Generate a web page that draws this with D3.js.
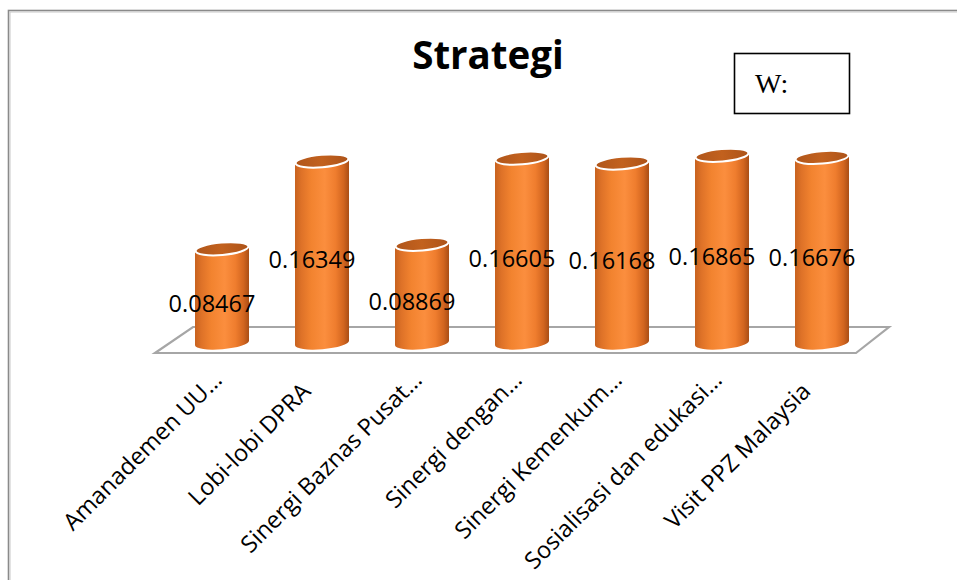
<!DOCTYPE html>
<html>
<head>
<meta charset="utf-8">
<script src="https://cdn.jsdelivr.net/npm/d3@7"></script>
<style>
  html, body { margin: 0; padding: 0; background: #ffffff; }
  svg { display: block; }
</style>
</head>
<body>
<svg id="chart" width="957" height="580"></svg>
<script>
// Strategy weights
const categories = [
  "Amanademen UU…",
  "Lobi-lobi DPRA",
  "Sinergi Baznas Pusat…",
  "Sinergi dengan…",
  "Sinergi Kemenkum…",
  "Sosialisasi dan edukasi…",
  "Visit PPZ Malaysia"
];
const values = [0.08467, 0.16349, 0.08869, 0.16605, 0.16168, 0.16865, 0.16676];
const valueLabels = ["0.08467", "0.16349", "0.08869", "0.16605", "0.16168", "0.16865", "0.16676"];
const title = "Strategi";
const boxLabel = "W:";

const svg = d3.select("#chart");
const W = 957, H = 580;

// frame around the chart area
svg.append("rect").attr("x", 0).attr("y", 0).attr("width", W).attr("height", H).attr("fill", "#ffffff");
svg.append("rect")
  .attr("x", 8.5).attr("y", 10.5).attr("width", W + 20).attr("height", H + 20)
  .attr("fill", "none").attr("stroke", "#8a8a8a").attr("stroke-width", 1.6);
svg.append("rect")
  .attr("x", 10).attr("y", 12).attr("width", W + 20).attr("height", H + 20)
  .attr("fill", "none").attr("stroke", "#c8c8c8").attr("stroke-width", 1);

// scales
const x = d3.scaleBand().domain(categories).range([172, 872]).padding(0);
const y = d3.scaleLinear().domain([0, 0.2]).range([343, 120.4]);

// floor (3D plane beneath the cylinders)
const x0 = x.range()[0], x1 = x.range()[1];
const floorPts = [
  [x0 - 17, y(0) + 10],
  [x0 + 21, y(0) - 16],
  [x1 + 17, y(0) - 16],
  [x1 - 16, y(0) + 10]
];
svg.append("path")
  .attr("d", d3.line()(floorPts) + "Z")
  .attr("fill", "#ffffff")
  .attr("stroke", "#a6a6a6")
  .attr("stroke-width", 2.2)
  .attr("stroke-linejoin", "miter");

// gradients
const defs = svg.append("defs");
const body = defs.append("linearGradient").attr("id", "bodyGrad")
  .attr("x1", "0").attr("x2", "1").attr("y1", "0").attr("y2", "0");
[
  [0, "#c7621f"], [0.12, "#de7228"], [0.3, "#f2832f"], [0.55, "#fb8e3e"],
  [0.75, "#ef7d2e"], [0.9, "#d2651f"], [1, "#a94e16"]
].forEach(([o, c]) => body.append("stop").attr("offset", o).attr("stop-color", c));

const topG = defs.append("linearGradient").attr("id", "topGrad")
  .attr("x1", "0").attr("x2", "1").attr("y1", "0").attr("y2", "0");
[[0, "#b0561b"], [0.5, "#c2611e"], [1, "#ad5319"]]
  .forEach(([o, c]) => topG.append("stop").attr("offset", o).attr("stop-color", c));

// cylinders
const bw = x.bandwidth() * 0.54;
const rx = bw / 2, ry = 6.2, tilt = -5;
const dy = rx * Math.sin(-tilt * Math.PI / 180);

const bars = svg.append("g").selectAll("g").data(values).join("g");
bars.each(function (v, i) {
  const g = d3.select(this);
  const cx = x(categories[i]) + x.bandwidth() / 2;
  const yt = y(v), yb = y(0);
  g.append("path")
    .attr("d",
      `M${cx - rx},${yt + dy} L${cx - rx},${yb + dy} ` +
      `A${rx},${ry} ${tilt} 0 0 ${cx + rx},${yb - dy} ` +
      `L${cx + rx},${yt - dy} Z`)
    .attr("fill", "url(#bodyGrad)");
  g.append("ellipse")
    .attr("cx", cx).attr("cy", yt).attr("rx", rx - 0.5).attr("ry", ry)
    .attr("transform", `rotate(${tilt},${cx},${yt})`)
    .attr("fill", "url(#topGrad)")
    .attr("stroke", "#ffffff").attr("stroke-width", 2);
});

// value labels
svg.append("g").selectAll("text").data(values).join("text")
  .attr("x", (d, i) => x(categories[i]) + x.bandwidth() / 2 - 10)
  .attr("y", d => (y(d) + y(0)) / 2 + 16)
  .attr("text-anchor", "middle")
  .attr("font-family", "'Open Sans', 'Noto Sans', sans-serif")
  .attr("font-size", 23.5)
  .attr("fill", "#000")
  .text((d, i) => valueLabels[i]);

// category axis labels (untruncated labels sit a little further back)
svg.append("g").selectAll("text").data(categories).join("text")
  .attr("transform", d => `translate(${x(d) + x.bandwidth() / 2 - 5},${375}) rotate(-45)`)
  .attr("dx", d => d.endsWith("…") ? 0 : -16)
  .attr("text-anchor", "end")
  .attr("dominant-baseline", "central")
  .attr("font-family", "'Open Sans', 'Noto Sans', sans-serif")
  .attr("font-size", 23.5)
  .attr("fill", "#000")
  .text(d => d);

// title
svg.append("text")
  .attr("x", 488).attr("y", 69)
  .attr("text-anchor", "middle")
  .attr("font-family", "'Open Sans', 'Noto Sans', sans-serif")
  .attr("font-weight", "bold")
  .attr("font-size", 38.5)
  .attr("fill", "#000")
  .text(title);

// W: box
svg.append("rect")
  .attr("x", 734.5).attr("y", 53.5).attr("width", 115).attr("height", 60)
  .attr("fill", "#ffffff").attr("stroke", "#000").attr("stroke-width", 1.6);
svg.append("text")
  .attr("x", 755).attr("y", 93)
  .attr("font-family", "'Liberation Serif', 'DejaVu Serif', serif")
  .attr("font-size", 28)
  .attr("fill", "#000")
  .text(boxLabel);
</script>
</body>
</html>
